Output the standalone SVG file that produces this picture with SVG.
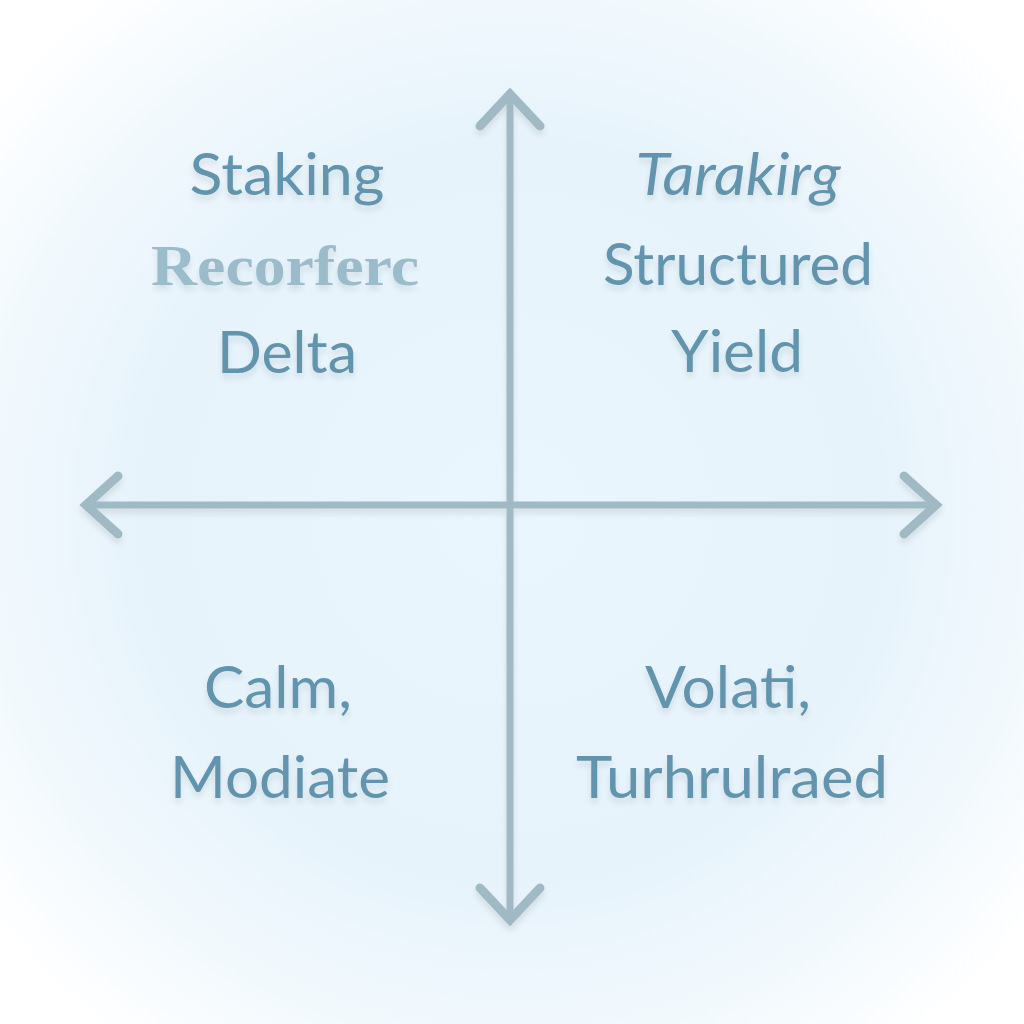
<svg xmlns="http://www.w3.org/2000/svg" width="1024" height="1024" viewBox="0 0 1024 1024">
<defs>
<radialGradient id="bg" cx="50%" cy="50%" r="65%">
<stop offset="0" stop-color="#e9f6fd"/>
<stop offset="0.55" stop-color="#e6f3fb"/>
<stop offset="0.8" stop-color="#f2f9fd"/>
<stop offset="1" stop-color="#ffffff"/>
</radialGradient>
<filter id="sh" x="-10%" y="-10%" width="120%" height="140%">
<feGaussianBlur in="SourceAlpha" stdDeviation="3"/>
<feOffset dy="5"/>
<feComponentTransfer><feFuncA type="linear" slope="0.1"/></feComponentTransfer>
<feMerge><feMergeNode/><feMergeNode in="SourceGraphic"/></feMerge>
</filter>
<style>
.ax{stroke:#a0bac5;stroke-width:7;fill:none;stroke-linecap:round;stroke-linejoin:round}
.hd{stroke:#a0bac5;stroke-width:9;fill:none;stroke-linecap:round;stroke-linejoin:miter}
.t{font-family:Lato,"Open Sans","Liberation Sans",sans-serif;font-size:58px;fill:#6295ad;text-anchor:middle;filter:url(#sh)}
.it{font-style:italic}
.sf{font-family:"Liberation Serif","DejaVu Serif",serif;font-weight:bold;fill:#93b6c6;opacity:0.9}
</style>
</defs>
<rect width="1024" height="1024" fill="url(#bg)"/>
<g id="connectors" filter="url(#sh)">
<line class="ax" x1="510" y1="96" x2="510" y2="918"/>
<line class="ax" x1="88" y1="505" x2="936" y2="505"/>
<polyline class="hd" points="480,126 510,94 540,126"/>
<polyline class="hd" points="480,888 510,920 540,888"/>
<polyline class="hd" points="118,476 86,505 118,534"/>
<polyline class="hd" points="904,476 936,505 904,534"/>
</g>
<g id="q1">
<text class="t" x="287" y="195" textLength="195" lengthAdjust="spacingAndGlyphs">Staking</text>
<text class="t sf" x="285" y="285" textLength="268" lengthAdjust="spacingAndGlyphs">Recorferc</text>
<text class="t" x="287" y="373" textLength="140" lengthAdjust="spacingAndGlyphs">Delta</text>
</g>
<g id="q2">
<text class="t it" x="738" y="195" textLength="205" lengthAdjust="spacingAndGlyphs">Tarakirg</text>
<text class="t" x="738" y="285" textLength="270" lengthAdjust="spacingAndGlyphs">Structured</text>
<text class="t" x="737" y="372" textLength="132" lengthAdjust="spacingAndGlyphs">Yield</text>
</g>
<g id="q3">
<text class="t" x="278" y="708" textLength="148" lengthAdjust="spacingAndGlyphs">Calm,</text>
<text class="t" x="280" y="798" textLength="220" lengthAdjust="spacingAndGlyphs">Modiate</text>
</g>
<g id="q4">
<text class="t" x="728" y="708" textLength="166" lengthAdjust="spacingAndGlyphs">Volati,</text>
<text class="t" x="732" y="798" textLength="312" lengthAdjust="spacingAndGlyphs">Turhrulraed</text>
</g>
</svg>
